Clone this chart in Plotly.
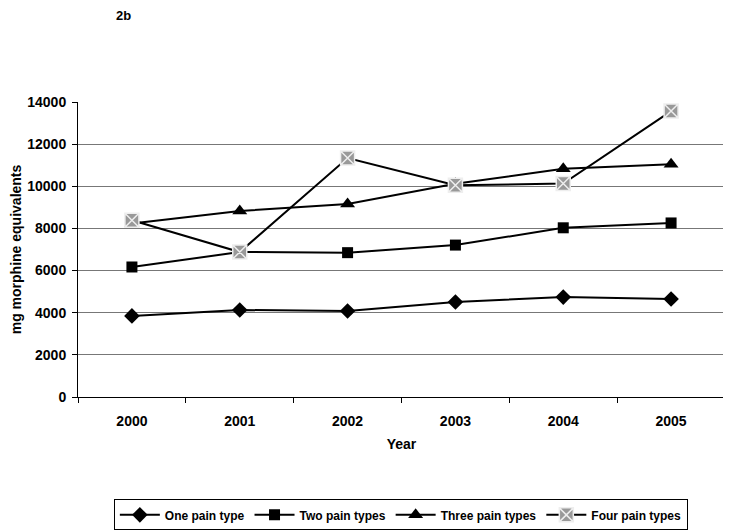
import plotly.graph_objects as go

years = ["2000", "2001", "2002", "2003", "2004", "2005"]
one_pain = [3850, 4130, 4080, 4510, 4740, 4650]
two_pain = [6170, 6880, 6850, 7210, 8030, 8260]
three_pain = [8230, 8830, 9160, 10120, 10830, 11050]
four_pain = [8390, 6880, 11340, 10050, 10130, 13570]

fig = go.Figure()
fig.add_trace(go.Scatter(x=years, y=one_pain, name="<b>One pain type</b>", mode="lines+markers",
                         line=dict(color="black", width=2),
                         marker=dict(symbol="diamond", size=12, color="black")))
fig.add_trace(go.Scatter(x=years, y=two_pain, name="<b>Two pain types</b>", mode="lines+markers",
                         line=dict(color="black", width=2),
                         marker=dict(symbol="square", size=11, color="black")))
fig.add_trace(go.Scatter(x=years, y=three_pain, name="<b>Three pain types</b>", mode="lines+markers",
                         line=dict(color="black", width=2),
                         marker=dict(symbol="triangle-up", size=13, color="black")))
fig.add_trace(go.Scatter(x=years, y=four_pain, name="<b>Four pain types</b>", mode="lines+markers",
                         line=dict(color="black", width=2),
                         marker=dict(symbol="square-x", size=14, color="#999999",
                                     line=dict(color="#eeeeee", width=1.5))))

# page body has an 8px margin, so the figure is 8px smaller than the window
fig.update_layout(
    width=723, height=523,
    margin=dict(l=70, r=6, t=94, b=134, autoexpand=False),
    paper_bgcolor="white", plot_bgcolor="white",
    font=dict(family="Liberation Sans, Arial", size=14, color="black"),
    showlegend=True,
    legend=dict(orientation="h", x=0.499, xanchor="center", y=-0.347, yanchor="top",
                bordercolor="black", borderwidth=1, font=dict(size=12),
                itemwidth=40, tracegroupgap=0),
    annotations=[dict(text="<b>2b</b>", x=(123 - 78) / 647, y=(397 - 15) / 295,
                      xref="paper", yref="paper", xanchor="center", yanchor="middle",
                      showarrow=False, font=dict(size=13))],
)

fig.update_xaxes(
    type="category", range=[-0.5, 5.5], tickson="boundaries", ticks="outside", ticklen=5,
    tickcolor="black", showline=True, linecolor="black", linewidth=1, automargin=False,
    tickfont=dict(size=14), ticklabelstandoff=11,
    title=dict(text="<b>Year</b>", font=dict(size=14), standoff=11),
    tickprefix="<b>", ticksuffix="</b>", showgrid=False,
)
fig.update_yaxes(
    range=[0, 14000], dtick=2000, tickformat="d", ticks="outside", ticklen=5, tickcolor="black",
    showline=True, linecolor="black", linewidth=1, automargin=False,
    showgrid=True, gridcolor="#777777", gridwidth=1,
    tickfont=dict(size=14), tickprefix="<b>", ticksuffix="</b>", ticklabelstandoff=3,
    title=dict(text="<b>mg morphine equivalents</b>", font=dict(size=14), standoff=4),
    zeroline=False,
)
# right border of the plot area
fig.add_shape(type="line", xref="paper", yref="paper", x0=1, x1=1, y0=0, y1=1,
              line=dict(color="#808080", width=1))

fig.write_html("out.html")
